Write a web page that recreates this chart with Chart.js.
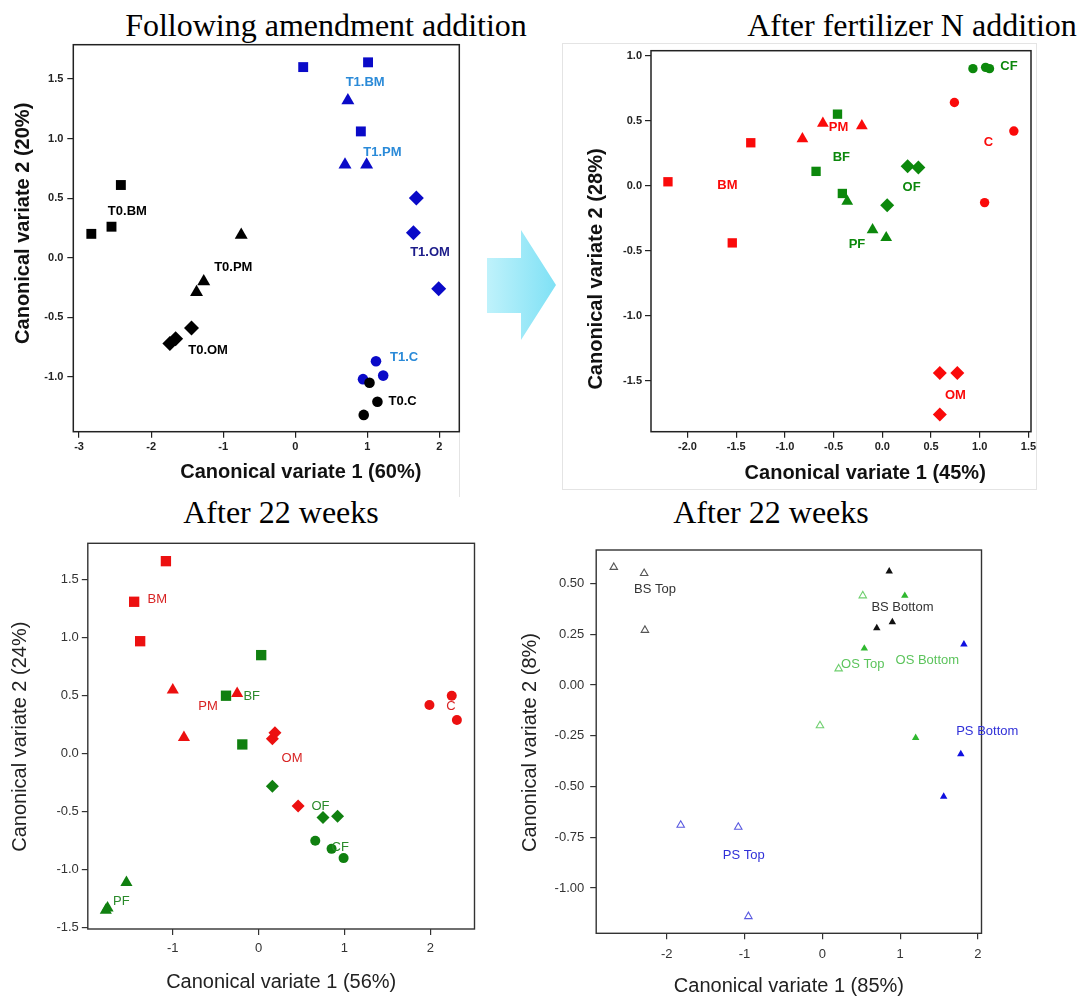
<!DOCTYPE html>
<html><head><meta charset="utf-8">
<script src="https://cdn.jsdelivr.net/npm/chart.js@4.4.1/dist/chart.umd.min.js"></script>
<style>
html,body{margin:0;padding:0;background:#fff;}
#stage{position:relative;width:1081px;height:997px;overflow:hidden;background:#fff;}
canvas{position:absolute;left:0;top:0;}
.ttl{position:absolute;width:600px;text-align:center;font-family:"Liberation Serif","Times New Roman",serif;font-size:32px;line-height:32px;color:#000;white-space:nowrap;}
#arrow{position:absolute;left:487px;top:230px;width:69px;height:110px;background:linear-gradient(to right,#bff2fb,#7fe1f5);clip-path:polygon(0px 28px,34px 28px,34px 0px,69px 55px,34px 110px,34px 83px,0px 83px);}
.faint{position:absolute;border:1px solid #e4e4e4;box-sizing:border-box;}
</style></head><body>
<div id="stage">
  <div class="ttl" style="left:26px;top:9px;">Following amendment addition</div>
  <div class="ttl" style="left:612px;top:9px;">After fertilizer N addition</div>
  <div class="ttl" style="left:-19px;top:496px;">After 22 weeks</div>
  <div class="ttl" style="left:471px;top:496px;">After 22 weeks</div>
  <div class="faint" style="left:562px;top:43px;width:475px;height:447px;"></div>
  <div class="faint" style="left:459px;top:432px;width:1px;height:65px;border-width:0 0 0 1px;"></div>
  <div id="arrow"></div>
  <canvas id="c1" width="1081" height="997"></canvas>
  <canvas id="c2" width="1081" height="997"></canvas>
  <canvas id="c3" width="1081" height="997"></canvas>
  <canvas id="c4" width="1081" height="997"></canvas>
</div>
<script>
// ---------- Panel 1: Following amendment addition ----------
const p1XTicks = [-3, -2, -1, 0, 1, 2];
const p1XTickLabels = ['-3', '-2', '-1', '0', '1', '2'];
const p1YTicks = [-1, -0.5, 0, 0.5, 1, 1.5];
const p1YTickLabels = ['-1.0', '-0.5', '0.0', '0.5', '1.0', '1.5'];
const p1T0BM = [[-2.83, 0.20], [-2.55, 0.26], [-2.42, 0.61]];
const p1T0PM = [[-0.75, 0.19], [-1.27, -0.20], [-1.37, -0.29]];
const p1T0OM = [[-1.44, -0.59], [-1.66, -0.68], [-1.74, -0.72]];
const p1T0C  = [[1.03, -1.05], [1.14, -1.21], [0.95, -1.32]];
const p1T1BM = [[0.11, 1.60], [1.01, 1.64], [0.91, 1.06]];
const p1T1PM = [[0.73, 1.32], [0.69, 0.78], [0.99, 0.78]];
const p1T1OM = [[1.68, 0.50], [1.64, 0.21], [1.99, -0.26]];
const p1T1C  = [[1.12, -0.87], [1.22, -0.99], [0.94, -1.02]];
const p1LabelText = ['T0.BM', 'T0.PM', 'T0.OM', 'T0.C', 'T1.BM', 'T1.PM', 'T1.OM', 'T1.C'];
const p1LabelX = [-2.33, -0.86, -1.21, 1.49, 0.97, 1.21, 1.87, 1.51];
const p1LabelY = [0.39, -0.08, -0.78, -1.21, 1.47, 0.88, 0.04, -0.84];

// ---------- Panel 2: After fertilizer N addition ----------
const p2XTicks = [-2, -1.5, -1, -0.5, 0, 0.5, 1, 1.5];
const p2XTickLabels = ['-2.0', '-1.5', '-1.0', '-0.5', '0.0', '0.5', '1.0', '1.5'];
const p2YTicks = [-1.5, -1, -0.5, 0, 0.5, 1];
const p2YTickLabels = ['-1.5', '-1.0', '-0.5', '0.0', '0.5', '1.0'];
const p2BM = [[-2.20, 0.03], [-1.35, 0.33], [-1.54, -0.44]];
const p2PM = [[-0.82, 0.36], [-0.61, 0.48], [-0.21, 0.46]];
const p2C  = [[0.74, 0.64], [1.35, 0.42], [1.05, -0.13]];
const p2OM = [[0.59, -1.44], [0.77, -1.44], [0.59, -1.76]];
const p2BF = [[-0.46, 0.55], [-0.68, 0.11], [-0.41, -0.06]];
const p2PF = [[-0.36, -0.12], [-0.10, -0.34], [0.04, -0.40]];
const p2OF = [[0.26, 0.15], [0.37, 0.14], [0.05, -0.15]];
const p2CF = [[0.93, 0.90], [1.06, 0.91], [1.10, 0.90]];
const p2LabelText = ['PM', 'BF', 'BM', 'C', 'OF', 'PF', 'OM', 'CF'];
const p2LabelX = [-0.45, -0.42, -1.59, 1.09, 0.30, -0.26, 0.75, 1.30];
const p2LabelY = [0.45, 0.22, 0.00, 0.33, -0.01, -0.45, -1.61, 0.92];

// ---------- Panel 3: After 22 weeks (treatments) ----------
const p3XTicks = [-1, 0, 1, 2];
const p3XTickLabels = ['-1', '0', '1', '2'];
const p3YTicks = [-1.5, -1, -0.5, 0, 0.5, 1, 1.5];
const p3YTickLabels = ['-1.5', '-1.0', '-0.5', '0.0', '0.5', '1.0', '1.5'];
const p3BM = [[-1.08, 1.66], [-1.45, 1.31], [-1.38, 0.97]];
const p3PM = [[-1.00, 0.55], [-0.87, 0.14], [-0.25, 0.52]];
const p3OM = [[0.16, 0.13], [0.19, 0.18], [0.46, -0.45]];
const p3C  = [[1.99, 0.42], [2.25, 0.50], [2.31, 0.29]];
const p3BF = [[0.03, 0.85], [-0.38, 0.50], [-0.19, 0.08]];
const p3OF = [[0.16, -0.28], [0.75, -0.55], [0.92, -0.54]];
const p3CF = [[0.66, -0.75], [0.85, -0.82], [0.99, -0.90]];
const p3PF = [[-1.54, -1.11], [-1.78, -1.35], [-1.76, -1.33]];
const p3LabelText = ['BM', 'PM', 'BF', 'C', 'OM', 'OF', 'CF', 'PF'];
const p3LabelX = [-1.18, -0.59, -0.08, 2.24, 0.39, 0.72, 0.95, -1.60];
const p3LabelY = [1.33, 0.41, 0.49, 0.41, -0.04, -0.45, -0.81, -1.27];

// ---------- Panel 4: After 22 weeks (soil layers) ----------
const p4XTicks = [-2, -1, 0, 1, 2];
const p4XTickLabels = ['-2', '-1', '0', '1', '2'];
const p4YTicks = [-1, -0.75, -0.5, -0.25, 0, 0.25, 0.5];
const p4YTickLabels = ['-1.00', '-0.75', '-0.50', '-0.25', '0.00', '0.25', '0.50'];
const p4BSTop    = [[-2.68, 0.58], [-2.29, 0.55], [-2.28, 0.27]];
const p4OSTop    = [[0.52, 0.44], [0.21, 0.08], [-0.03, -0.20]];
const p4PSTop    = [[-1.82, -0.69], [-1.08, -0.70], [-0.95, -1.14]];
const p4BSBottom = [[0.86, 0.56], [0.70, 0.28], [0.90, 0.31]];
const p4OSBottom = [[1.06, 0.44], [0.54, 0.18], [1.20, -0.26]];
const p4PSBottom = [[1.82, 0.20], [1.78, -0.34], [1.56, -0.55]];
const p4LabelText = ['BS Top', 'BS Bottom', 'OS Top', 'OS Bottom', 'PS Bottom', 'PS Top'];
const p4LabelX = [-2.15, 1.03, 0.52, 1.35, 2.12, -1.01];
const p4LabelY = [0.47, 0.38, 0.10, 0.12, -0.23, -0.84];

// ---------- helpers ----------
const SANS = '"Liberation Sans", Arial, Helvetica, sans-serif';
const W = 1081, H = 997;

const textPlugin = {
  id: 'texts',
  beforeDatasetsDraw(chart, args, o) {
    const a = chart.chartArea, ctx = chart.ctx;
    ctx.save();
    ctx.strokeStyle = o.frameColor; ctx.lineWidth = o.frameWidth;
    ctx.strokeRect(a.left, a.top, a.right - a.left, a.bottom - a.top);
    ctx.restore();
  },
  afterDraw(chart, args, o) {
    const ctx = chart.ctx, xs = chart.scales.x, ys = chart.scales.y;
    ctx.save();
    ctx.textAlign = 'center'; ctx.textBaseline = 'middle';
    (o.labels || []).forEach(l => {
      ctx.font = o.labelFont; ctx.fillStyle = l.color;
      ctx.fillText(l.text, xs.getPixelForValue(l.x), ys.getPixelForValue(l.y));
    });
    (o.titles || []).forEach(t => {
      ctx.save(); ctx.translate(t.px, t.py); ctx.rotate(t.rot || 0);
      ctx.font = o.titleFont; ctx.fillStyle = o.titleColor;
      ctx.fillText(t.text, 0, 0); ctx.restore();
    });
    ctx.restore();
  }
};

function ds(points, style, color, radius, open) {
  return {
    data: points.map(p => ({x: p[0], y: p[1]})),
    pointStyle: style, pointRadius: radius,
    backgroundColor: open ? 'rgba(0,0,0,0)' : color,
    borderColor: color, borderWidth: open ? 1.1 : 0,
    clip: false
  };
}

function labels(texts, xs, ys, colors) {
  return texts.map((t, i) => ({text: t, x: xs[i], y: ys[i], color: colors[i]}));
}

function makeChart(id, c) {
  const a = c.area;
  const axis = (ax, isX) => ({
    type: 'linear', position: isX ? 'bottom' : 'left', min: ax.min, max: ax.max,
    afterFit: s => { if (isX) s.height = H - a.b; else s.width = a.l; },
    afterBuildTicks: s => { s.ticks = ax.ticks.map(v => ({value: v})); },
    ticks: {
      callback: (v) => ax.labels[ax.ticks.indexOf(v)],
      font: c.tickFont, color: c.tickColor, padding: ax.pad,
      maxRotation: 0, minRotation: 0, autoSkip: false
    },
    grid: {display: true, drawOnChartArea: false, drawTicks: true,
           tickLength: c.tickLen, color: c.frameColor, lineWidth: c.tickWidth},
    border: {display: false}
  });
  new Chart(document.getElementById(id), {
    type: 'scatter',
    data: {datasets: c.datasets},
    options: {
      responsive: false, animation: false, events: [],
      layout: {padding: {left: 0, top: a.t, right: W - a.r, bottom: 0}},
      plugins: {
        legend: {display: false}, tooltip: {enabled: false},
        texts: {frameColor: c.frameColor, frameWidth: c.frameWidth,
                labels: c.labels, labelFont: c.labelFont,
                titles: c.titles, titleFont: c.titleFont, titleColor: c.titleColor}
      },
      scales: {x: axis(c.x, true), y: axis(c.y, false)}
    },
    plugins: [textPlugin]
  });
}

// ---------- Panel 1 ----------
const BLK = '#000000', BLU = '#0a0ac8', LBLU = '#2a8ad8', DBLU = '#1c1c8a';
makeChart('c1', {
  area: {l: 73.3, t: 44.7, r: 459.3, b: 431.7},
  x: {min: -3.080, max: 2.276, ticks: p1XTicks, labels: p1XTickLabels, pad: 3},
  y: {min: -1.461, max: 1.788, ticks: p1YTicks, labels: p1YTickLabels, pad: 4},
  tickFont: {family: SANS, size: 11, weight: 'bold'}, tickColor: '#222',
  tickLen: 6, tickWidth: 1.2, frameColor: '#222', frameWidth: 1.5,
  datasets: [
    ds(p1T0BM, 'rect', BLK, 7), ds(p1T0PM, 'triangle', BLK, 7.5),
    ds(p1T0OM, 'rectRot', BLK, 7.5), ds(p1T0C, 'circle', BLK, 5.3),
    ds(p1T1BM, 'rect', BLU, 7), ds(p1T1PM, 'triangle', BLU, 7.5),
    ds(p1T1OM, 'rectRot', BLU, 7.5), ds(p1T1C, 'circle', BLU, 5.3)
  ],
  labels: labels(p1LabelText, p1LabelX, p1LabelY, [BLK, BLK, BLK, BLK, LBLU, LBLU, DBLU, LBLU]),
  labelFont: 'bold 13px ' + SANS,
  titleFont: 'bold 20px ' + SANS, titleColor: '#111',
  titles: [
    {text: 'Canonical variate 1 (60%)', px: 300.8, py: 472.7},
    {text: 'Canonical variate 2 (20%)', px: 23.3, py: 223.3, rot: -Math.PI / 2}
  ]
});

// ---------- Panel 2 ----------
const RED = '#fa0a0a', GRN = '#0c880c';
makeChart('c2', {
  area: {l: 651, t: 50.7, r: 1031, b: 431.7},
  x: {min: -2.374, max: 1.526, ticks: p2XTicks, labels: p2XTickLabels, pad: 3},
  y: {min: -1.892, max: 1.038, ticks: p2YTicks, labels: p2YTickLabels, pad: 3},
  tickFont: {family: SANS, size: 11, weight: 'bold'}, tickColor: '#222',
  tickLen: 6, tickWidth: 1.2, frameColor: '#222', frameWidth: 1.5,
  datasets: [
    ds(p2BM, 'rect', RED, 6.6), ds(p2PM, 'triangle', RED, 6.8),
    ds(p2C, 'circle', RED, 4.7), ds(p2OM, 'rectRot', RED, 7),
    ds(p2BF, 'rect', GRN, 6.6), ds(p2PF, 'triangle', GRN, 6.8),
    ds(p2OF, 'rectRot', GRN, 7), ds(p2CF, 'circle', GRN, 4.7)
  ],
  labels: labels(p2LabelText, p2LabelX, p2LabelY, [RED, GRN, RED, RED, GRN, GRN, RED, GRN]),
  labelFont: 'bold 13px ' + SANS,
  titleFont: 'bold 20px ' + SANS, titleColor: '#111',
  titles: [
    {text: 'Canonical variate 1 (45%)', px: 865.2, py: 473.3},
    {text: 'Canonical variate 2 (28%)', px: 596.7, py: 269, rot: -Math.PI / 2}
  ]
});

// ---------- Panel 3 ----------
const RED3 = '#ec1010', GRN3 = '#108010', RLAB3 = '#d82424', GLAB3 = '#2a8a2a';
makeChart('c3', {
  area: {l: 87.8, t: 543.3, r: 474.5, b: 929},
  x: {min: -1.99, max: 2.515, ticks: p3XTicks, labels: p3XTickLabels, pad: 6},
  y: {min: -1.511, max: 1.814, ticks: p3YTicks, labels: p3YTickLabels, pad: 3},
  tickFont: {family: SANS, size: 13}, tickColor: '#333',
  tickLen: 6, tickWidth: 1.2, frameColor: '#333', frameWidth: 1.4,
  datasets: [
    ds(p3BM, 'rect', RED3, 7.3), ds(p3PM, 'triangle', RED3, 7),
    ds(p3OM, 'rectRot', RED3, 6.5), ds(p3C, 'circle', RED3, 5),
    ds(p3BF, 'rect', GRN3, 7.3), ds(p3OF, 'rectRot', GRN3, 6.5),
    ds(p3CF, 'circle', GRN3, 5), ds(p3PF, 'triangle', GRN3, 7)
  ],
  labels: labels(p3LabelText, p3LabelX, p3LabelY, [RLAB3, RLAB3, GLAB3, RLAB3, RLAB3, GLAB3, GLAB3, GLAB3]),
  labelFont: '13px ' + SANS,
  titleFont: '20px ' + SANS, titleColor: '#222',
  titles: [
    {text: 'Canonical variate 1 (56%)', px: 281.2, py: 982.7},
    {text: 'Canonical variate 2 (24%)', px: 20.7, py: 736.7, rot: -Math.PI / 2}
  ]
});

// ---------- Panel 4 ----------
const GRY4 = '#555555', LGRN4 = '#6fcf6f', LBLU4 = '#5a5ae0', BLK4 = '#111111', GRN4 = '#2fb82f', BLU4 = '#1010e0';
makeChart('c4', {
  area: {l: 596.2, t: 550, r: 981.5, b: 933.3},
  x: {min: -2.906, max: 2.046, ticks: p4XTicks, labels: p4XTickLabels, pad: 7},
  y: {min: -1.223, max: 0.665, ticks: p4YTicks, labels: p4YTickLabels, pad: 6},
  tickFont: {family: SANS, size: 13}, tickColor: '#333',
  tickLen: 6, tickWidth: 1.2, frameColor: '#333', frameWidth: 1.4,
  datasets: [
    ds(p4BSTop, 'triangle', GRY4, 4.3, true), ds(p4OSTop, 'triangle', LGRN4, 4.3, true),
    ds(p4PSTop, 'triangle', LBLU4, 4.3, true), ds(p4BSBottom, 'triangle', BLK4, 4.3),
    ds(p4OSBottom, 'triangle', GRN4, 4.3), ds(p4PSBottom, 'triangle', BLU4, 4.3)
  ],
  labels: labels(p4LabelText, p4LabelX, p4LabelY, ['#333', '#333', '#5cc45c', '#5cc45c', '#3030d8', '#3030d8']),
  labelFont: '13px ' + SANS,
  titleFont: '20px ' + SANS, titleColor: '#222',
  titles: [
    {text: 'Canonical variate 1 (85%)', px: 788.9, py: 986.7},
    {text: 'Canonical variate 2 (8%)', px: 530.7, py: 742.5, rot: -Math.PI / 2}
  ]
});
</script>
</body></html>
